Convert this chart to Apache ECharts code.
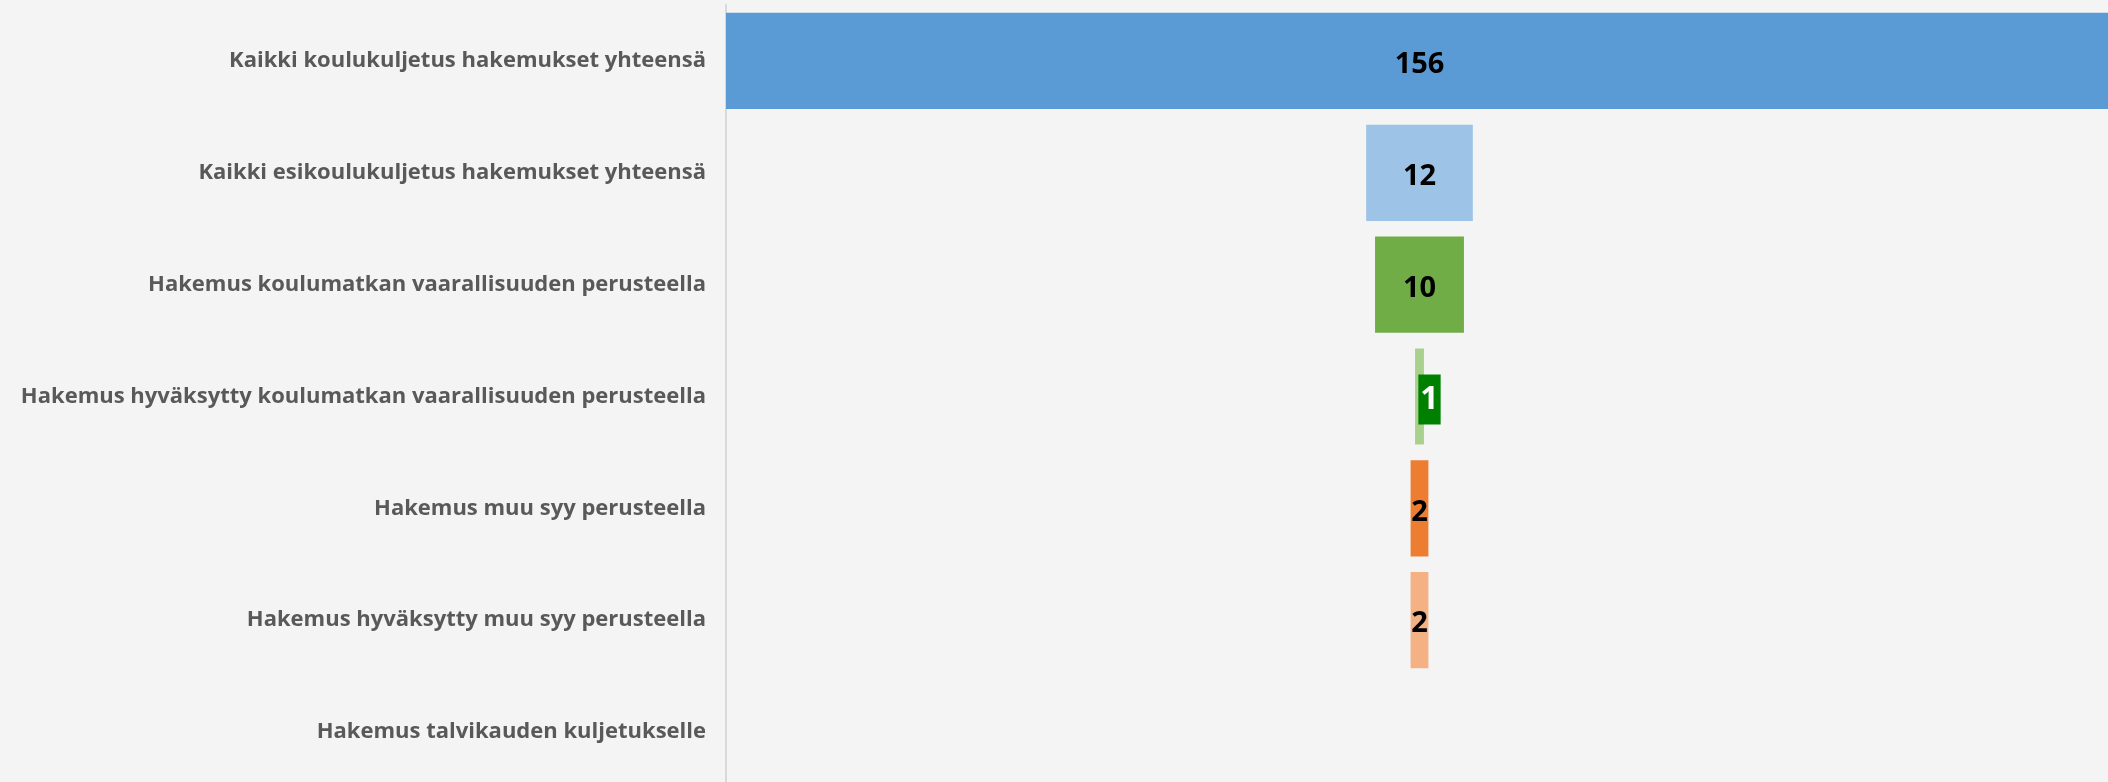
<!DOCTYPE html>
<html>
<head>
<meta charset="utf-8">
<script src="https://cdn.jsdelivr.net/npm/echarts@6/dist/echarts.min.js"></script>
<style>
  html, body { margin: 0; padding: 0; background: #f4f4f4; }
  #chart { width: 2108px; height: 782px; }
</style>
</head>
<body>
<div id="chart"></div>
<script>
// categories (top to bottom)
const categories = [
  'Kaikki koulukuljetus hakemukset yhteensä',
  'Kaikki esikoulukuljetus hakemukset yhteensä',
  'Hakemus koulumatkan vaarallisuuden perusteella',
  'Hakemus hyväksytty koulumatkan vaarallisuuden perusteella',
  'Hakemus muu syy perusteella',
  'Hakemus hyväksytty muu syy perusteella',
  'Hakemus talvikauden kuljetukselle'
];
const values = [156, 12, 10, 1, 2, 2, 0];
const barColors = ['#5b9bd5', '#9dc3e6', '#70ad47', '#a9d18e', '#ed7d31', '#f4b183', '#ffc000'];

const maxValue = Math.max(...values);

// invisible offset so bars sit centred like a funnel
const offsets = values.map(v => (maxValue - v) / 2);

const labelBase = {
  show: true,
  position: 'inside',
  color: '#000',
  fontSize: 29,
  fontWeight: 'bold',
  fontFamily: 'Open Sans',
  offset: [0, 4],
  formatter: p => (p.value ? p.value : '')
};

const barData = values.map((v, i) => {
  const item = { value: v, itemStyle: { color: barColors[i] } };
  if (v === 1) {
    // the small bar gets a boxed label
    item.label = {
      color: '#fff',
      fontSize: 32,
      lineHeight: 32,
      backgroundColor: '#008000',
      padding: [9, 2, 9, 2],
      offset: [10, 3]
    };
  }
  return item;
});

const chart = echarts.init(document.getElementById('chart'));
chart.setOption({
  backgroundColor: '#f4f4f4',
  animation: false,
  grid: {
    left: 726, width: 1387, top: 5, height: 783,
    outerBoundsMode: 'none',
    containLabel: false
  },
  xAxis: {
    type: 'value',
    min: 0,
    max: maxValue,
    show: false
  },
  yAxis: {
    type: 'category',
    inverse: true,
    data: categories,
    axisLine: { show: true, lineStyle: { color: '#d9d9d9', width: 2 } },
    axisTick: { show: false },
    splitLine: { show: false },
    axisLabel: {
      color: '#595959',
      fontSize: 22,
      fontWeight: 'bold',
      fontFamily: 'Open Sans',
      backgroundColor: 'rgba(0,0,0,0)',
      padding: [12, 0, 0, 0],
      margin: 20
    }
  },
  series: [
    {
      type: 'bar',
      stack: 'funnel',
      data: offsets,
      itemStyle: { color: 'transparent' },
      silent: true,
      barCategoryGap: '14%'
    },
    {
      type: 'bar',
      stack: 'funnel',
      data: barData,
      label: labelBase,
      barCategoryGap: '14%'
    }
  ]
});
</script>
</body>
</html>
